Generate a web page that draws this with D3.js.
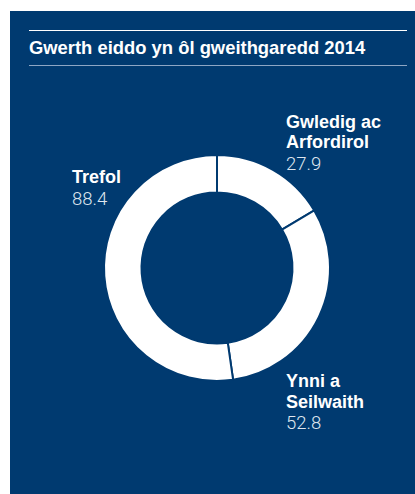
<!DOCTYPE html>
<html><head><meta charset="utf-8">
<script src="https://cdn.jsdelivr.net/npm/d3@7"></script>
<style>html,body{margin:0;padding:0;background:#fff;}svg{display:block;}</style>
</head><body>
<svg id="c" width="415" height="494"></svg>
<script>
const title = "Gwerth eiddo yn ôl gweithgaredd 2014";
const categories = [["Gwledig ac", "Arfordirol"], ["Ynni a", "Seilwaith"], ["Trefol"]];
const values = [27.9, 52.8, 88.4];
const valueLabels = ["27.9", "52.8", "88.4"];

const bg = "#003a70";
const svg = d3.select("#c");
svg.append("rect").attr("x",10).attr("y",11).attr("width",405).attr("height",483).attr("fill",bg);
svg.append("line").attr("x1",29).attr("x2",407).attr("y1",30.5).attr("y2",30.5).attr("stroke","#fff").attr("stroke-width",1);
svg.append("line").attr("x1",29).attr("x2",407).attr("y1",65.5).attr("y2",65.5).attr("stroke","#8ea6c4").attr("stroke-width",1.2);
svg.append("text").attr("x",29).attr("y",53.5).text(title)
  .attr("fill","#fff").attr("font-family","Liberation Sans, Arial, sans-serif").attr("font-weight","bold").attr("font-size",18.4);

const cx = 217, cy = 268;
const pie = d3.pie().sort(null).value(d=>d);
const arc = d3.arc().innerRadius(75.5).outerRadius(113);
const g = svg.append("g").attr("transform",`translate(${cx},${cy})`);
g.selectAll("path").data(pie(values)).join("path")
  .attr("d",arc).attr("fill","#fff").attr("stroke",bg).attr("stroke-width",2).attr("stroke-linejoin","miter");

const labelPos = [[286,127.5],[286,387],[72,183]];
categories.forEach((lines,i)=>{
  const [x,y] = labelPos[i];
  const t = svg.append("text").attr("x",x).attr("y",y)
    .attr("font-family","Liberation Sans, Arial, sans-serif").attr("font-size",18);
  lines.forEach((l,j)=>{
    t.append("tspan").attr("x",x).attr("dy",j===0?0:20.5).attr("fill","#fff").attr("font-weight","bold").text(l);
  });
  t.append("tspan").attr("x",x).attr("dy",21.5).attr("fill","#dfe6ef")
    .attr("font-family","Roboto, Lato, sans-serif").attr("font-weight",300).attr("font-size",18.5).text(valueLabels[i]);
});
</script>
</body></html>
